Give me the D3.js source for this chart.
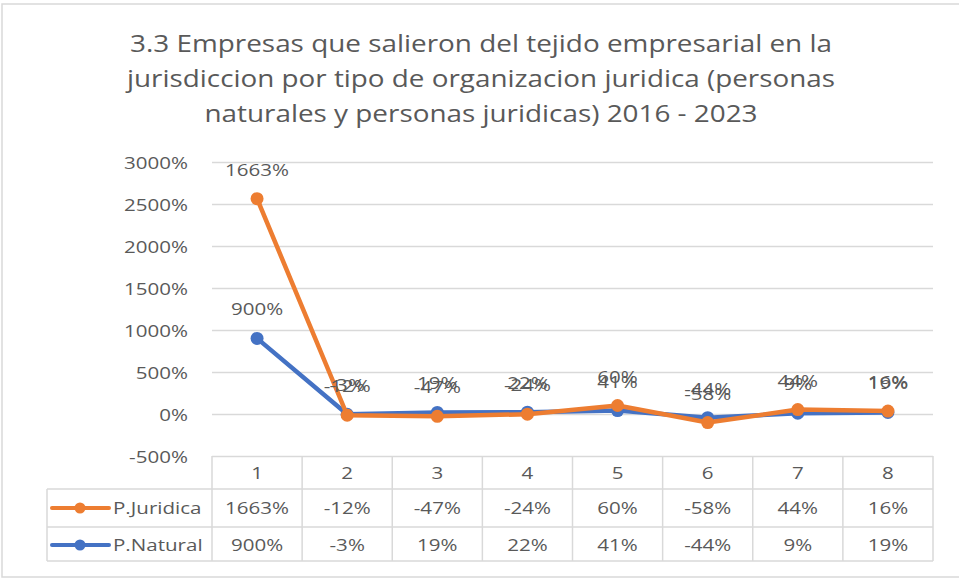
<!DOCTYPE html>
<html>
<head>
<meta charset="utf-8">
<script src="https://cdn.jsdelivr.net/npm/d3@7"></script>
<style>
  body { margin: 0; background: #fff; }
  text { font-family: "Open Sans", sans-serif; fill: #595959; }
</style>
</head>
<body>
<div id="chart"></div>
<script>
// data (values in %)
var categories = ["1", "2", "3", "4", "5", "6", "7", "8"];
var juridica = [1663, -12, -47, -24, 60, -58, 44, 16];
var natural = [900, -3, 19, 22, 41, -44, 9, 19];
var yTicks = [-500, 0, 500, 1000, 1500, 2000, 2500, 3000];
var titleLines = [
  "3.3 Empresas que salieron del tejido empresarial en la",
  "jurisdiccion por tipo de organizacion juridica (personas",
  "naturales y personas juridicas) 2016 - 2023"
];

var svgWidth = 959;
var svgHeight = 578;
var orange = "#ED7D31";
var blue = "#4472C4";
var gridColor = "#d9d9d9";
var sx = 1.21; // the small text in the picture is a bit wide

var svg = d3.select("#chart")
  .append("svg")
  .attr("width", svgWidth)
  .attr("height", svgHeight);

// chart border
svg.append("rect")
  .attr("x", 2).attr("y", 4)
  .attr("width", 980).attr("height", 573)
  .attr("fill", "#fff")
  .attr("stroke", gridColor)
  .attr("stroke-width", 1.5);

// helper for horizontally stretched labels
function label(g, x, y, str, anchor, size) {
  return g.append("text")
    .attr("transform", "translate(" + x + "," + y + ") scale(" + sx + ",1)")
    .attr("text-anchor", anchor)
    .attr("font-size", size || 17)
    .text(str);
}

// title
var titleWidths = [702, 708, 553];
var titleBase = [52, 87, 122];
svg.append("g").selectAll("text")
  .data(titleLines)
  .enter()
  .append("text")
  .attr("x", 481)
  .attr("y", function(d, i) { return titleBase[i]; })
  .attr("text-anchor", "middle")
  .attr("font-size", 24)
  .attr("textLength", function(d, i) { return titleWidths[i]; })
  .attr("lengthAdjust", "spacingAndGlyphs")
  .text(function(d) { return d; });

// scales
var xBand = d3.scaleBand()
  .domain(categories)
  .range([212, 933]);

var yScale = d3.scaleLinear()
  .domain([-500, 3000])
  .range([456, 162]);

function xMid(c) { return xBand(c) + xBand.bandwidth() / 2; }

// gridlines + y labels
var yAxis = d3.axisLeft(yScale)
  .tickValues(yTicks)
  .tickSize(-(933 - 212))
  .tickFormat(function(d) { return d + "%"; });

var yG = svg.append("g")
  .attr("transform", "translate(212,0)")
  .call(yAxis);
yG.select(".domain").remove();
yG.selectAll(".tick line")
  .attr("stroke", gridColor)
  .attr("stroke-width", 1.5);
yG.selectAll(".tick text").remove();
yG.selectAll(".tick").each(function(d) {
  label(d3.select(this), -24, 6, d + "%", "end");
});

// stacked series (Excel stacked line)
var rows = categories.map(function(c, i) {
  return { cat: c, natural: natural[i], juridica: juridica[i] };
});
var stack = d3.stack().keys(["natural", "juridica"]);
var series = stack(rows);
var raw = { natural: natural, juridica: juridica };
var colors = { natural: blue, juridica: orange };

var line = d3.line()
  .x(function(d) { return xMid(d.data.cat); })
  .y(function(d) { return yScale(d[1]); });

var lineG = svg.append("g");
series.forEach(function(s) {
  lineG.append("path")
    .datum(s)
    .attr("d", line)
    .attr("fill", "none")
    .attr("stroke", colors[s.key])
    .attr("stroke-width", 4.5)
    .attr("stroke-linejoin", "round");
  lineG.selectAll("circle." + s.key)
    .data(s)
    .enter()
    .append("circle")
    .attr("class", s.key)
    .attr("cx", function(d) { return xMid(d.data.cat); })
    .attr("cy", function(d) { return yScale(d[1]); })
    .attr("r", 6.5)
    .attr("fill", colors[s.key]);
});

// data labels show the raw values above each stacked point
var labG = svg.append("g");
series.forEach(function(s) {
  s.forEach(function(d, i) {
    label(labG, xMid(d.data.cat), yScale(d[1]) - 23, raw[s.key][i] + "%", "middle");
  });
});

// data table
var tableG = svg.append("g");
var rowTop = [456, 489, 527, 561];
var tableLeft = 47;
var tableRight = 933;

tableG.append("line")
  .attr("x1", tableLeft).attr("x2", tableRight)
  .attr("y1", rowTop[1]).attr("y2", rowTop[1]);
tableG.append("line")
  .attr("x1", tableLeft).attr("x2", tableRight)
  .attr("y1", rowTop[2]).attr("y2", rowTop[2]);
tableG.append("line")
  .attr("x1", tableLeft).attr("x2", tableRight)
  .attr("y1", rowTop[3]).attr("y2", rowTop[3]);
tableG.append("line")
  .attr("x1", tableLeft).attr("x2", tableLeft)
  .attr("y1", rowTop[1]).attr("y2", rowTop[3]);
xBand.domain().forEach(function(c) {
  tableG.append("line")
    .attr("x1", xBand(c)).attr("x2", xBand(c))
    .attr("y1", rowTop[0]).attr("y2", rowTop[3]);
});
tableG.append("line")
  .attr("x1", tableRight).attr("x2", tableRight)
  .attr("y1", rowTop[0]).attr("y2", rowTop[3]);
tableG.selectAll("line")
  .attr("stroke", gridColor)
  .attr("stroke-width", 1.5);

// header row: categories
categories.forEach(function(c) {
  label(tableG, xMid(c), 479, c, "middle");
});

// value rows
var tableRows = [
  { name: "P.Juridica", vals: juridica, color: orange, y: 514 },
  { name: "P.Natural", vals: natural, color: blue, y: 551 }
];
tableRows.forEach(function(r) {
  var mid = r.y - 6;
  tableG.append("line")
    .attr("x1", 52).attr("x2", 109)
    .attr("y1", mid).attr("y2", mid)
    .attr("stroke", r.color)
    .attr("stroke-width", 4)
    .attr("stroke-linecap", "round");
  tableG.append("circle")
    .attr("cx", 80).attr("cy", mid)
    .attr("r", 5.5)
    .attr("fill", r.color);
  label(tableG, 113, r.y, r.name, "start");
  r.vals.forEach(function(v, i) {
    label(tableG, xMid(categories[i]), r.y, v + "%", "middle");
  });
});
</script>
</body>
</html>
